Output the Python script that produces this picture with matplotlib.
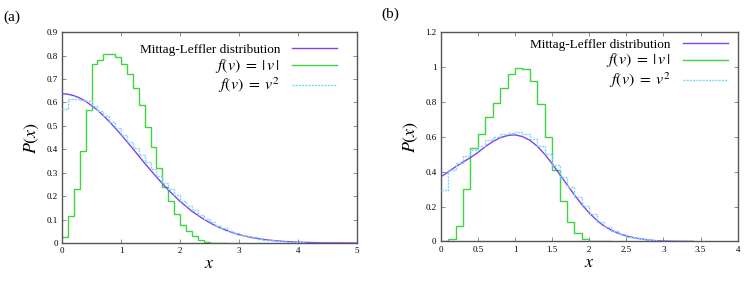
import numpy as np
import matplotlib.pyplot as plt

plt.rcParams['font.family'] = ['Liberation Serif', 'DejaVu Serif']
plt.rcParams['mathtext.fontset'] = 'stix'

# ---- panel (a) ----
a_curve_x = [0.0, 0.1, 0.2, 0.3, 0.4, 0.6, 0.8, 1.0, 1.2, 1.4, 1.6, 1.8, 2.0,
             2.2, 2.4, 2.6, 2.8, 3.0, 3.2, 3.4, 3.6, 3.8, 4.0, 4.4, 5.0]
a_curve_y = [0.637, 0.635, 0.629, 0.619, 0.605, 0.568, 0.519, 0.463, 0.403,
             0.341, 0.282, 0.227, 0.178, 0.136, 0.102, 0.074, 0.0525, 0.036,
             0.0245, 0.016, 0.0103, 0.0064, 0.0039, 0.0013, 0.0002]
a_abs = [0.026, 0.114, 0.231, 0.394, 0.566, 0.766, 0.783, 0.807, 0.807, 0.794,
         0.766, 0.723, 0.663, 0.589, 0.497, 0.411, 0.319, 0.240, 0.179, 0.126,
         0.076, 0.050, 0.029, 0.015, 0.006, 0.002, 0.001, 0.0]
a_sq = [0.570, 0.615, 0.615, 0.612, 0.608, 0.585, 0.563, 0.540, 0.518, 0.490,
        0.463, 0.432, 0.405, 0.374, 0.345, 0.315, 0.285, 0.256, 0.230, 0.204,
        0.180, 0.160, 0.140, 0.120, 0.104, 0.088, 0.075, 0.063, 0.053, 0.043,
        0.036, 0.029, 0.024, 0.019, 0.015, 0.012, 0.009, 0.007, 0.005, 0.004,
        0.003, 0.002, 0.0015, 0.001, 0.0007, 0.0004]

# ---- panel (b) ----
b_curve_x = [0.0, 0.1, 0.2, 0.3, 0.4, 0.5, 0.6, 0.7, 0.8, 0.9, 1.0, 1.1, 1.2,
             1.3, 1.4, 1.5, 1.6, 1.7, 1.8, 1.9, 2.0, 2.1, 2.2, 2.3, 2.4, 2.5,
             2.6, 2.7, 2.8, 2.9, 3.0, 3.2, 3.4]
b_curve_y = [0.370, 0.398, 0.428, 0.455, 0.480, 0.510, 0.543, 0.572, 0.594,
             0.607, 0.611, 0.601, 0.580, 0.546, 0.500, 0.446, 0.386, 0.326,
             0.267, 0.212, 0.163, 0.122, 0.088, 0.064, 0.045, 0.031, 0.021,
             0.014, 0.008, 0.004, 0.002, 0.0005, 0.0001]
b_abs = [0.0, 0.016, 0.091, 0.303, 0.533, 0.617, 0.712, 0.794, 0.880, 0.960,
         0.994, 0.989, 0.920, 0.787, 0.600, 0.411, 0.234, 0.109, 0.046, 0.015,
         0.005, 0.001, 0.0]
b_sq = [0.295, 0.410, 0.450, 0.488, 0.525, 0.548, 0.580, 0.600, 0.618, 0.620,
        0.625, 0.615, 0.588, 0.545, 0.500, 0.440, 0.372, 0.312, 0.255, 0.205,
        0.157, 0.112, 0.082, 0.057, 0.040, 0.028, 0.018, 0.012, 0.007, 0.004,
        0.002, 0.001, 0.0005]

bin_w = 0.1
c_ml = '#8040f0'
c_abs = '#3ed63e'
c_sq = '#7fd6f8'

fig = plt.figure(figsize=(7.47, 2.84), dpi=100)
ax_a = fig.add_axes([0.083, 0.144, 0.395, 0.743])
ax_b = fig.add_axes([0.590, 0.150, 0.3975, 0.737])


def draw(ax, cx, cy, h_abs, h_sq, leg_pad, leg_y):
    ax.plot(cx, cy, color=c_ml, lw=1.0, label='Mittag-Leffler distribution', zorder=3)
    e_abs = np.arange(len(h_abs) + 1) * bin_w
    e_sq = np.arange(len(h_sq) + 1) * bin_w
    ax.stairs(h_abs, e_abs, baseline=None, color=c_abs, lw=1.0,
              label=r'$f(v)\;=\;|\,v\,|$', zorder=2)
    ax.stairs(h_sq, e_sq, baseline=None, color=c_sq, lw=1.0, ls=(0, (1.5, 0.8)),
              label=r'$f(v)\;=\;v^2$', zorder=4)
    ax.tick_params(direction='in', top=True, right=True, labelsize=6.5,
                   length=3, width=0.6, color='#777777', pad=3)
    for s in ax.spines.values():
        s.set_color('#555555')
        s.set_linewidth(1.0)
    ax.set_xlabel('$x$', fontsize=13, labelpad=0)
    ax.set_ylabel('$P(x)$', fontsize=13, labelpad=4)
    leg = ax.legend(loc='upper right', bbox_to_anchor=(1 - leg_pad, leg_y),
                    frameon=False, markerfirst=False, fontsize=9.5,
                    handlelength=3.4, handletextpad=0.9, labelspacing=0.05,
                    borderaxespad=0.0, borderpad=0.0)
    for t in leg.get_texts()[1:]:
        t.set_fontsize(11.5)


draw(ax_a, a_curve_x, a_curve_y, a_abs, a_sq, 0.068, 0.945)
ax_a.set_xlim(0, 5)
ax_a.set_ylim(0, 0.9)
ax_a.set_xticks(range(6))
ax_a.set_yticks(np.arange(10) / 10)
ax_a.set_yticklabels(['0', '0.1', '0.2', '0.3', '0.4', '0.5', '0.6', '0.7', '0.8', '0.9'])

draw(ax_b, b_curve_x, b_curve_y, b_abs, b_sq, 0.034, 0.97)
ax_b.set_xlim(0, 4)
ax_b.set_ylim(0, 1.2)
ax_b.set_xticks(np.arange(9) / 2)
ax_b.set_xticklabels(['0', '0.5', '1', '1.5', '2', '2.5', '3', '3.5', '4'])
ax_b.set_yticks(np.arange(7) / 5)
ax_b.set_yticklabels(['0', '0.2', '0.4', '0.6', '0.8', '1', '1.2'])

fig.text(0.005, 0.94, '(a)', fontsize=11, va='center')
fig.text(0.510, 0.95, '(b)', fontsize=11, va='center')

fig.savefig('out.png', dpi=100)
